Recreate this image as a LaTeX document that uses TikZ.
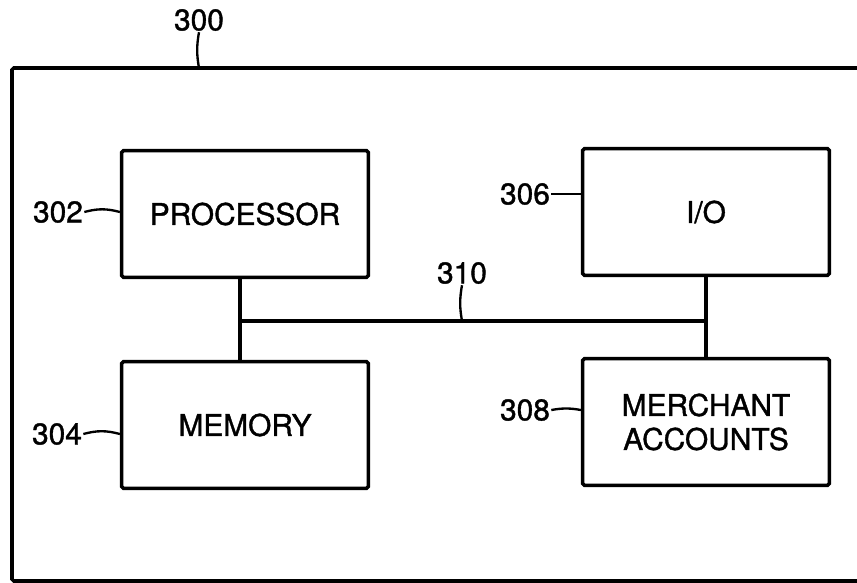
\documentclass[tikz,border=0pt]{standalone}
\usepackage{fontspec}
\setmainfont[FakeBold=1.2]{TeX Gyre Heros}
\begin{document}
\begin{tikzpicture}
        [x=0.03cm, y=-0.03cm,
        block/.style={draw, line width=3pt, rounded corners=1.5pt, minimum width=7.4cm, minimum height=3.8cm, align=center, font=\fontsize{25.5}{29}\selectfont},
        label/.style={font=\fontsize{25.5}{29}\selectfont, inner sep=1pt},
        bus/.style={line width=3pt},
        leader/.style={line width=2pt}]

        \useasboundingbox (0,0) rectangle (857,583);

        % outer system box
        \coordinate (sysNW) at (12,68);
        \coordinate (sysSE) at (900,581);
        \draw[line width=3pt, rounded corners=1.5pt] (sysNW) rectangle (sysSE);

        \node[block] (proc) at (245,214) {PROCESSOR};
        \node[block] (mem) at (245,425) {MEMORY};
        \node[block] (io) at (706,212) {I/O};
        \node[block] (merch) at (706,422) {MERCHANT\\ACCOUNTS};

        % bus
        \coordinate (busL) at (240,321);
        \coordinate (busR) at (706,321);
        \draw[bus] (busL) -- (busR);
        \draw[bus] (proc.south -| busL) -- (mem.north -| busL);
        \draw[bus] (io.south -| busR) -- (merch.north -| busR);

        % reference numerals
        \node[label] (l300) at (199,20) {300};
        \node[label] (l302) at (58,212) {302};
        \node[label] (l304) at (57,434) {304};
        \node[label] (l306) at (525,194) {306};
        \node[label] (l308) at (525,410) {308};
        \node[label] (l310) at (462,273) {310};

        \draw[leader] (l300.south) to[bend right=10] (l300.south |- sysNW);
        \draw[leader] (l302.east) to[bend left=15] (proc.west |- l302.east);
        \draw[leader] (l304.east) to[bend left=15] (mem.west |- l304.east);
        \draw[leader] (l306.east) -- (io.west |- l306.east);
        \draw[leader] (l308.east) to[bend left=10] (merch.west |- l308.east);
        \draw[leader] (l310.south) to[bend right=10] (l310.south |- busL);

    \end{tikzpicture}
\end{document}
